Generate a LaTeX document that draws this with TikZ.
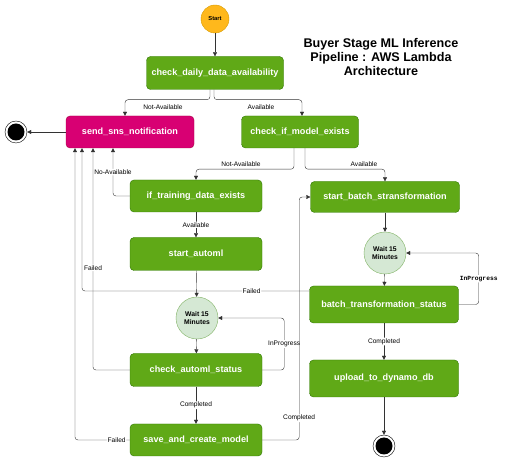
\documentclass[tikz,border=0pt]{standalone}
\usepackage{fontspec}
\setmainfont{Liberation Sans}
\setmonofont{Liberation Mono}
\usetikzlibrary{positioning,arrows.meta,calc}

\definecolor{lambdafill}{HTML}{60A917}
\definecolor{lambdaline}{HTML}{2D7600}
\definecolor{snsfill}{HTML}{D80073}
\definecolor{snsline}{HTML}{A50040}
\definecolor{waitfill}{HTML}{D5E8D4}
\definecolor{waitline}{HTML}{82B366}
\definecolor{startfill}{HTML}{FFB81C}
\definecolor{startline}{HTML}{D79B00}

\begin{document}
\begin{tikzpicture}[
    x=1pt, y=-1pt,
    >={Triangle[length=4pt,width=4pt]},
    every node/.style={font=\fontsize{6.6}{7.5}\selectfont},
    block/.style={draw=lambdaline, fill=lambdafill, rounded corners=4pt, text=white,
                  font=\bfseries\fontsize{9.1}{10}\selectfont, minimum width=132pt, minimum height=32pt},
    wait/.style={circle, draw=waitline, fill=waitfill, minimum size=42pt, inner sep=0pt,
                 align=center, font=\bfseries\fontsize{6.8}{8.2}\selectfont},
    endstate/.style={circle, draw=black, minimum size=22pt, inner sep=0pt,
                     path picture={\fill[black] (path picture bounding box.center) circle (8.5pt);}},
    lbl/.style={fill=white, inner sep=0.8pt},
    flow/.style={->, draw=black!80, rounded corners=3pt},
]
\useasboundingbox (0,0) rectangle (512,462);

% Title
\node[font=\bfseries\fontsize{12.6}{14.2}\selectfont, align=center] (title) at (381,57)
  {Buyer Stage ML Inference\\Pipeline : AWS Lambda\\Architecture};

% Start state
\node[circle, draw=startline, fill=startfill, minimum size=28pt, inner sep=0pt,
      font=\bfseries\fontsize{5.8}{6}\selectfont] (start) at (215,19) {Start};

% Row 1: data check
\node[block, minimum width=137pt, minimum height=33pt] (daily) at (215,73) {check\_daily\_data\_availability};
\draw[flow] (start) -- (daily);

% Row 2: notification and model check
\node[block, draw=snsline, fill=snsfill, minimum width=128pt] (sns) at (130,132) {send\_sns\_notification};
\node[block, minimum width=117pt] (model) at (300,132) {check\_if\_model\_exists};
\node[endstate] (endA) at (16,132) {};

\draw[flow] ([xshift=-5pt]daily.south) -- ++(0,10) -| ([xshift=-5pt]sns.north);
\node (naA) at (163,107) {Not-Available};
\draw[flow] ([xshift=-1pt]daily.south) -- ++(0,10) -| ([xshift=2pt]model.north);
\node (avA) at (261,107) {Available};
\draw[flow] (sns) -- (endA);

% Row 3: training data and batch transform
\node[block] (training) at (196,196) {if\_training\_data\_exists};
\node[block, minimum width=149pt, minimum height=31pt] (batch) at (385,197) {start\_batch\_stransformation};

\draw[flow] ([xshift=-6pt]model.south) -- ++(0,21) -| (training.north);
\node (naB) at (241,164) {Not-Available};
\draw[flow] ([xshift=5pt]model.south) -- ++(0,21) -| (batch.north);
\node (avB) at (364,164) {Available};
\draw[flow] (training.west) -| node[lbl, pos=0.75] {No-Available} ([xshift=-17pt]sns.south);

% Left column: AutoML training
\node[block, minimum height=33pt] (automl) at (196,254) {start\_automl};
\node[wait] (waitA) at (197,318) {Wait 15\\Minutes};
\node[block, minimum height=33pt] (status) at (196,370) {check\_automl\_status};
\node[block] (save) at (196,440) {save\_and\_create\_model};

\draw[flow] (training) -- node[lbl] {Available} (automl);
\draw[flow] (automl) -- (waitA);
\draw[flow] (waitA) -- (status);
\draw[flow] (status.east) -- ++(22,0) |- node[lbl, pos=0.25] {InProgress} (waitA.east);
\draw[flow] (status.west) -| node[lbl, pos=0.73] {Failed} ([xshift=-37pt]sns.south);
\draw[flow] (status) -- node[lbl] {Completed} (save);
\draw[flow] (save.west) -| node[lbl, pos=0.12] {Failed} ([xshift=-55pt]sns.south);
\draw[flow] (save.east) -- ++(37,0) |- node[lbl, pos=0.045] {Completed} (batch.west);

% Right column: batch transform
\node[wait] (waitB) at (385,253) {Wait 15\\Minutes};
\node[block, minimum width=149pt, minimum height=37pt] (bstatus) at (384,304.5) {batch\_transformation\_status};
\node[block, minimum width=149pt, minimum height=37pt] (upload) at (384,378.5) {upload\_to\_dynamo\_db};
\node[endstate] (endB) at (384,446) {};

\draw[flow] (batch) -- (waitB);
\draw[flow] (waitB) -- (bstatus);
\draw[flow] (bstatus.east) -- ++(20,0) |- node[lbl, pos=0.25, font=\ttfamily\bfseries\fontsize{6.3}{7}\selectfont] {InProgress} (waitB.east);
\draw[flow] ([yshift=13.5pt]bstatus.west) -| node[lbl, pos=0.127] {Failed} ([xshift=-48pt]sns.south);
\draw[flow] (bstatus) -- node[lbl] {Completed} (upload);
\draw[flow] (upload) -- (endB);

\end{tikzpicture}
\end{document}
